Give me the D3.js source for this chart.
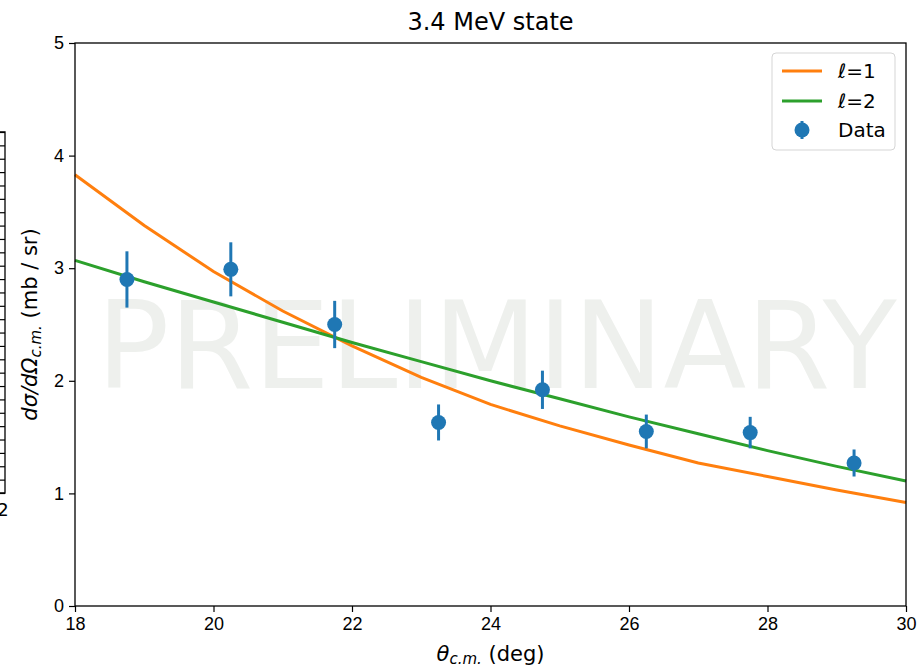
<!DOCTYPE html>
<html>
<head>
<meta charset="utf-8">
<script src="https://cdn.jsdelivr.net/npm/d3@7"></script>
<style>
  body { margin: 0; background: #fff; }
  svg { display: block; font-family: "DejaVu Sans", sans-serif; }
</style>
</head>
<body>
<div id="chart"></div>
<script>
// measured cross section points
let dataAngle = [18.75, 20.25, 21.75, 23.25, 24.75, 26.25, 27.75, 29.25]
let dataXsec = [2.90, 2.99, 2.50, 1.63, 1.92, 1.55, 1.54, 1.27]
let dataErr = [0.25, 0.24, 0.21, 0.16, 0.17, 0.15, 0.14, 0.12]

// DWBA-like curves, 1 degree steps
let curveAngle = [18, 19, 20, 21, 22, 23, 24, 25, 26, 27, 28, 29, 30]
let curveL1 = [3.83, 3.38, 2.97, 2.62, 2.31, 2.03, 1.79, 1.60, 1.43, 1.27, 1.15, 1.03, 0.92]
let curveL2 = [3.07, 2.88, 2.70, 2.52, 2.34, 2.17, 2.00, 1.84, 1.68, 1.53, 1.38, 1.24, 1.11]

let xTicks = [18, 20, 22, 24, 26, 28, 30]
let yTicks = [0, 1, 2, 3, 4, 5]

let width = 923
let height = 670
let plotLeft = 75, plotRight = 906, plotTop = 43, plotBottom = 606

let svg = d3.select("#chart").append("svg")
    .attr("width", width)
    .attr("height", height)

let xscale = d3.scaleLinear().domain([18, 30]).range([plotLeft, plotRight])
let yscale = d3.scaleLinear().domain([0, 5]).range([plotBottom, plotTop])

// watermark
svg.append("text")
    .attr("x", (plotLeft + plotRight) / 2 + 6)
    .attr("y", 388)
    .attr("text-anchor", "middle")
    .style("font-size", "121px")
    .style("fill", "#eef0ed")
    .text("PRELIMINARY")

// cut-off neighbour panel on the far left
let ghost = d3.scaleLinear().domain([0, 27]).range([493, 132])
svg.append("g")
    .attr("class", "ghost")
    .attr("transform", "translate(5,0)")
    .call(d3.axisLeft(ghost).tickValues(d3.range(0, 28)).tickSize(5).tickFormat(""))
    .call(g => g.select(".domain").attr("d", "M-5,132H0V493H-5").attr("stroke-width", 1.3))
svg.append("text")
    .attr("x", 3)
    .attr("y", 516)
    .attr("text-anchor", "middle")
    .style("font-size", "18px")
    .text("2")

// curves
let line = d3.line()
    .x((d, i) => xscale(curveAngle[i]))
    .y(d => yscale(d))

svg.append("path")
    .datum(curveL1)
    .attr("d", line)
    .attr("fill", "none")
    .attr("stroke", "#ff7f0e")
    .attr("stroke-width", 3)

svg.append("path")
    .datum(curveL2)
    .attr("d", line)
    .attr("fill", "none")
    .attr("stroke", "#2ca02c")
    .attr("stroke-width", 3)

// error bars + markers
svg.append("g").selectAll("line")
    .data(dataAngle)
    .enter()
    .append("line")
    .attr("x1", d => xscale(d))
    .attr("x2", d => xscale(d))
    .attr("y1", (d, i) => yscale(dataXsec[i] - dataErr[i]))
    .attr("y2", (d, i) => yscale(dataXsec[i] + dataErr[i]))
    .attr("stroke", "#1f77b4")
    .attr("stroke-width", 3)

svg.append("g").selectAll("circle")
    .data(dataAngle)
    .enter()
    .append("circle")
    .attr("cx", d => xscale(d))
    .attr("cy", (d, i) => yscale(dataXsec[i]))
    .attr("r", 7.5)
    .attr("fill", "#1f77b4")

// axes
let xAxis = d3.axisBottom(xscale).tickValues(xTicks).tickFormat(d3.format("d")).tickSize(6).tickPadding(5)
svg.append("g")
    .attr("class", "axis")
    .attr("transform", "translate(0," + plotBottom + ")")
    .call(xAxis)
    .call(g => g.selectAll("text").style("font-size", "18px").attr("fill", "#000"))

let yAxis = d3.axisLeft(yscale).tickValues(yTicks).tickFormat(d3.format("d")).tickSize(6).tickPadding(5)
svg.append("g")
    .attr("class", "axis")
    .attr("transform", "translate(" + plotLeft + ",0)")
    .call(yAxis)
    .call(g => g.selectAll("text").style("font-size", "18px").attr("fill", "#000"))

svg.selectAll(".axis .domain").remove()
svg.selectAll(".tick line").attr("stroke-width", 1.2)

// frame
svg.append("rect")
    .attr("x", plotLeft)
    .attr("y", plotTop)
    .attr("width", plotRight - plotLeft)
    .attr("height", plotBottom - plotTop)
    .attr("fill", "none")
    .attr("stroke", "#000")
    .attr("stroke-width", 1.3)

// title
svg.append("text")
    .attr("x", (plotLeft + plotRight) / 2)
    .attr("y", 30)
    .attr("text-anchor", "middle")
    .style("font-size", "24px")
    .text("3.4 MeV state")

// x label
let xl = svg.append("text")
    .attr("x", (plotLeft + plotRight) / 2)
    .attr("y", 661)
    .attr("text-anchor", "middle")
    .style("font-size", "21px")
xl.append("tspan").style("font-style", "italic").text("θ")
xl.append("tspan").attr("dy", 3).style("font-style", "italic").style("font-size", "15px").text("c.m.")
xl.append("tspan").attr("dy", -3).text(" (deg)")

// y label
let yl = svg.append("text")
    .attr("transform", "translate(37," + ((plotTop + plotBottom) / 2) + ") rotate(-90)")
    .attr("text-anchor", "middle")
    .style("font-size", "21px")
yl.append("tspan").style("font-style", "italic").text("dσ/dΩ")
yl.append("tspan").attr("dy", 4).style("font-style", "italic").style("font-size", "15px").text("c.m.")
yl.append("tspan").attr("dy", -4).text("  (mb / sr)")

// legend
let lg = svg.append("g").attr("transform", "translate(772,53)")
lg.append("rect")
    .attr("width", 123)
    .attr("height", 97)
    .attr("rx", 4)
    .attr("fill", "#fff")
    .attr("fill-opacity", 0.8)
    .attr("stroke", "#d5d5d5")
    .attr("stroke-width", 1)
let legendItems = [["ℓ", "=1", "#ff7f0e"], ["ℓ", "=2", "#2ca02c"]]
legendItems.forEach((d, i) => {
    let y = 18 + i * 30
    lg.append("line").attr("x1", 10).attr("x2", 50).attr("y1", y).attr("y2", y)
        .attr("stroke", d[2]).attr("stroke-width", 3)
    let t = lg.append("text").attr("x", 66).attr("y", y + 7).style("font-size", "20px")
    t.append("tspan").style("font-style", "italic").text(d[0])
    t.append("tspan").text(d[1])
})
lg.append("line").attr("x1", 30).attr("x2", 30).attr("y1", 68).attr("y2", 86)
    .attr("stroke", "#1f77b4").attr("stroke-width", 3)
lg.append("circle").attr("cx", 30).attr("cy", 77).attr("r", 7.5).attr("fill", "#1f77b4")
lg.append("text").attr("x", 66).attr("y", 84).style("font-size", "20px").text("Data")
</script>
</body>
</html>
